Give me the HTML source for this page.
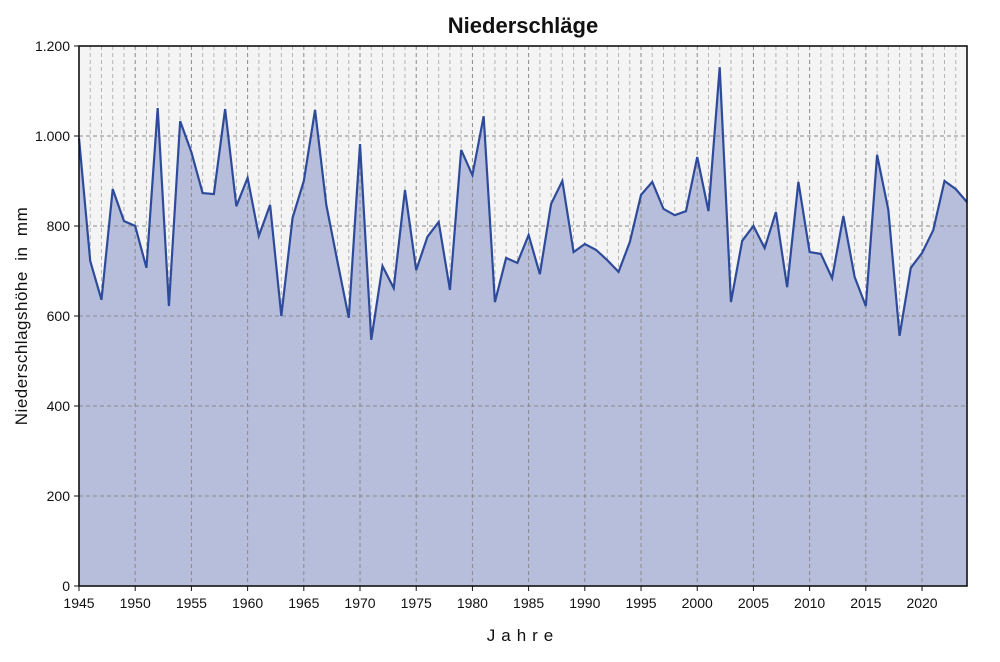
<!DOCTYPE html>
<html><head><meta charset="utf-8"><style>
body{margin:0;background:#fff;font-family:"Liberation Sans",sans-serif}
svg text{font-family:"Liberation Sans",sans-serif;fill:#111}
</style></head><body>
<script>
const years=[1945,1946,1947,1948,1949,1950,1951,1952,1953,1954,1955,1956,1957,1958,1959,1960,1961,1962,1963,1964,1965,1966,1967,1968,1969,1970,1971,1972,1973,1974,1975,1976,1977,1978,1979,1980,1981,1982,1983,1984,1985,1986,1987,1988,1989,1990,1991,1992,1993,1994,1995,1996,1997,1998,1999,2000,2001,2002,2003,2004,2005,2006,2007,2008,2009,2010,2011,2012,2013,2014,2015,2016,2017,2018,2019,2020,2021,2022,2023,2024];
const precip=[995,722,636,882,811,800,707,1062,622,1033,964,873,871,1060,844,907,778,847,600,818,900,1058,847,720,596,982,547,711,662,880,702,776,809,658,969,913,1044,631,729,718,780,693,849,900,742,760,747,724,698,764,869,898,838,824,833,953,833,1153,631,767,800,751,831,664,898,742,738,684,822,687,622,958,836,556,707,740,791,900,882,853];
const yTicks=[0,200,400,600,800,1000,1200];
const yTickLabels=["0","200","400","600","800","1.000","1.200"];
const xTicks=[1945,1950,1955,1960,1965,1970,1975,1980,1985,1990,1995,2000,2005,2010,2015,2020];
</script>
<svg id="svgroot" width="1000" height="657" viewBox="0 0 1000 657">
<g id="chart"></g>
<text x="523" y="33" text-anchor="middle" font-size="22" font-weight="bold">Niederschläge</text>
<text x="523" y="641" text-anchor="middle" font-size="17" letter-spacing="6">Jahre</text>
<text transform="translate(27,316) rotate(-90)" text-anchor="middle" font-size="17" letter-spacing="0.5" xml:space="preserve">Niederschlagshöhe  in  mm</text>
</svg>
<script>
(function(){
const NS="http://www.w3.org/2000/svg";
const L=79,R=967,T=46,B=586,X0=1945,X1=2024,YMAX=1200;
const x=v=>L+(v-X0)*(R-L)/(X1-X0);
const y=v=>B-v*(B-T)/YMAX;
const g=document.getElementById('chart');
function mk(t,a){const e=document.createElementNS(NS,t);for(const k in a)e.setAttribute(k,a[k]);g.appendChild(e);return e;}
const bg=mk('rect',{x:L,y:T,width:R-L,height:B-T,fill:'#f4f4f4'});


for(let yr=X0+1;yr<X1;yr++){if(xTicks.includes(yr))continue;
 const l=mk('line',{x1:x(yr),x2:x(yr),y1:T,y2:B,stroke:'#b4b4b4','stroke-width':1,'stroke-dasharray':'4,3'});
 
 }
let d='M'+x(years[0])+','+y(0);
years.forEach((yr,i)=>{d+=' L'+x(yr)+','+y(precip[i]);});
d+=' L'+x(years[years.length-1])+','+y(0)+' Z';
const area=mk('path',{d:d,fill:'#b6bedb'});


xTicks.forEach(t=>{if(t===X0)return;
 const l=mk('line',{x1:x(t),x2:x(t),y1:T,y2:B,stroke:'#8a8a8a','stroke-width':1,'stroke-dasharray':'4,3'});
 
 });
yTicks.forEach(t=>{if(t===0||t===YMAX)return;
 const l=mk('line',{x1:L,x2:R,y1:y(t),y2:y(t),stroke:'#8a8a8a','stroke-width':1,'stroke-dasharray':'4,3'});
 
 });
let p='';years.forEach((yr,i)=>{p+=(i?' L':'M')+x(yr)+','+y(precip[i]);});
const line=mk('path',{d:p,fill:'none',stroke:'#2e4a9a','stroke-width':2.2});


const fr=mk('rect',{x:L,y:T,width:R-L,height:B-T,fill:'none',stroke:'#111','stroke-width':1.6});


yTicks.forEach((t,i)=>{
 const tk=mk('line',{x1:L-5,x2:L,y1:y(t),y2:y(t),stroke:'#111','stroke-width':1});
 
 
 const tx=mk('text',{x:L-9,y:y(t)+5,'text-anchor':'end','font-size':14});
 tx.textContent=yTickLabels[i];
 
 });
xTicks.forEach(t=>{
 const tk=mk('line',{x1:x(t),x2:x(t),y1:B,y2:B+5,stroke:'#111','stroke-width':1});
 
 
 const tx=mk('text',{x:x(t),y:B+22,'text-anchor':'middle','font-size':14});
 tx.textContent=String(t);
 
 });
})();
</script>
</body></html>
